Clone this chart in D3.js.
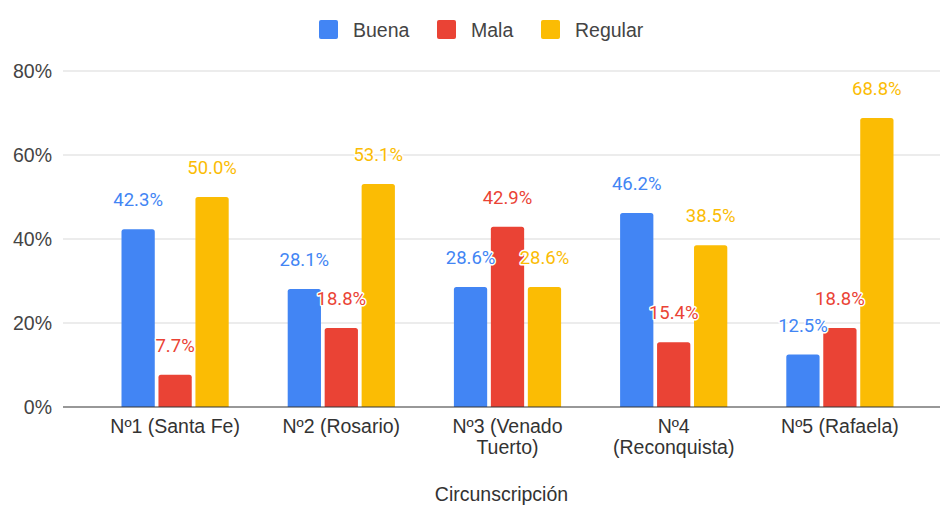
<!DOCTYPE html>
<html>
<head>
<meta charset="utf-8">
<script src="https://cdn.jsdelivr.net/npm/d3@7"></script>
<style>
  html, body { margin: 0; padding: 0; background: #fff; }
  text { font-family: "Liberation Sans", Arial, sans-serif; }
  text.value { font-family: Roboto, "Liberation Sans", Arial, sans-serif; }
</style>
</head>
<body>
<div id="chart"></div>
<script>
// DATA
const categories = [
  ["Nº1 (Santa Fe)"],
  ["Nº2 (Rosario)"],
  ["Nº3 (Venado", "Tuerto)"],
  ["Nº4", "(Reconquista)"],
  ["Nº5 (Rafaela)"]
];
const seriesNames = ["Buena", "Mala", "Regular"];
const buena   = [42.3, 28.1, 28.6, 46.2, 12.5];
const mala    = [7.7, 18.8, 42.9, 15.4, 18.8];
const regular = [50.0, 53.1, 28.6, 38.5, 68.8];
const yTicks  = [0, 20, 40, 60, 80];

const COLORS = { Buena: "#4285f4", Mala: "#ea4335", Regular: "#fbbc04" };

// CONFIG
const W = 941, H = 505;
const plotLeft = 63, plotRight = 940, plotTop = 71, plotBottom = 407;

const svg = d3.select("#chart").append("svg")
  .attr("width", W).attr("height", H);

const catKeys = categories.map((c, i) => "c" + i);
const rows = catKeys.map((k, i) => ({
  key: k, lines: categories[i],
  values: { Buena: buena[i], Mala: mala[i], Regular: regular[i] }
}));

const x0 = d3.scaleBand().domain(catKeys).range([92, 923])
  .paddingInner(0.355).paddingOuter(0.1775);
const x1 = d3.scaleBand().domain(seriesNames).range([0, x0.bandwidth()])
  .paddingInner(0.1);
const y = d3.scaleLinear().domain([0, 80]).range([plotBottom, plotTop]);

// gridlines
svg.append("g").selectAll("line").data(yTicks.filter(d => d > 0)).join("line")
  .attr("x1", plotLeft).attr("x2", plotRight)
  .attr("y1", d => y(d)).attr("y2", d => y(d))
  .attr("stroke", "#d9d9d9").attr("stroke-width", 1);

// y tick labels
svg.append("g").selectAll("text").data(yTicks).join("text")
  .attr("x", 52).attr("y", d => y(d) + 7)
  .attr("text-anchor", "end")
  .attr("font-size", 19.5).attr("fill", "#444")
  .text(d => d + "%");

// bars
const groups = svg.append("g").selectAll("g").data(rows).join("g")
  .attr("transform", d => `translate(${x0(d.key)},0)`);

groups.selectAll("path").data(d => seriesNames.map(s => ({ s, v: d.values[s] }))).join("path")
  .attr("fill", d => COLORS[d.s])
  .attr("d", d => {
    const bx = x1(d.s), bw = x1.bandwidth(), top = y(d.v), r = 2.5;
    return `M${bx},${plotBottom}V${top + r}Q${bx},${top} ${bx + r},${top}` +
      `H${bx + bw - r}Q${bx + bw},${top} ${bx + bw},${top + r}V${plotBottom}Z`;
  });

// baseline
svg.append("line")
  .attr("x1", plotLeft).attr("x2", plotRight)
  .attr("y1", plotBottom).attr("y2", plotBottom)
  .attr("stroke", "#333").attr("stroke-width", 1.2);

// value labels (with white halo)
groups.selectAll("text").data(d => seriesNames.map(s => ({ s, v: d.values[s] }))).join("text")
  .attr("class", "value")
  .attr("x", d => x1(d.s) + x1.bandwidth() / 2)
  .attr("y", d => y(d.v) - 23)
  .attr("text-anchor", "middle")
  .attr("font-size", 18.5)
  .attr("fill", d => COLORS[d.s])
  .attr("stroke", "#fff").attr("stroke-width", 3)
  .attr("paint-order", "stroke")
  .attr("stroke-linejoin", "round")
  .text(d => d.v.toFixed(1) + "%");

// category labels
const catText = svg.append("g").selectAll("text").data(rows).join("text")
  .attr("x", d => x0(d.key) + x0.bandwidth() / 2)
  .attr("y", 433)
  .attr("text-anchor", "middle")
  .attr("font-size", 19.5).attr("fill", "#333");
catText.selectAll("tspan").data(d => d.lines).join("tspan")
  .attr("x", function() { return d3.select(this.parentNode).attr("x"); })
  .attr("dy", (d, i) => i === 0 ? 0 : 21)
  .text(d => d);

// axis title
svg.append("text")
  .attr("x", (plotLeft + plotRight) / 2).attr("y", 501)
  .attr("text-anchor", "middle")
  .attr("font-size", 19.5).attr("fill", "#333")
  .text("Circunscripción");

// legend
const legendX = [319, 437, 541];
const legend = svg.append("g").selectAll("g").data(seriesNames).join("g")
  .attr("transform", (d, i) => `translate(${legendX[i]},20)`);
legend.append("rect")
  .attr("width", 19).attr("height", 19).attr("rx", 2)
  .attr("fill", d => COLORS[d]);
legend.append("text")
  .attr("x", 34).attr("y", 16.5)
  .attr("font-size", 19.5).attr("fill", "#444")
  .text(d => d);
</script>
</body>
</html>
